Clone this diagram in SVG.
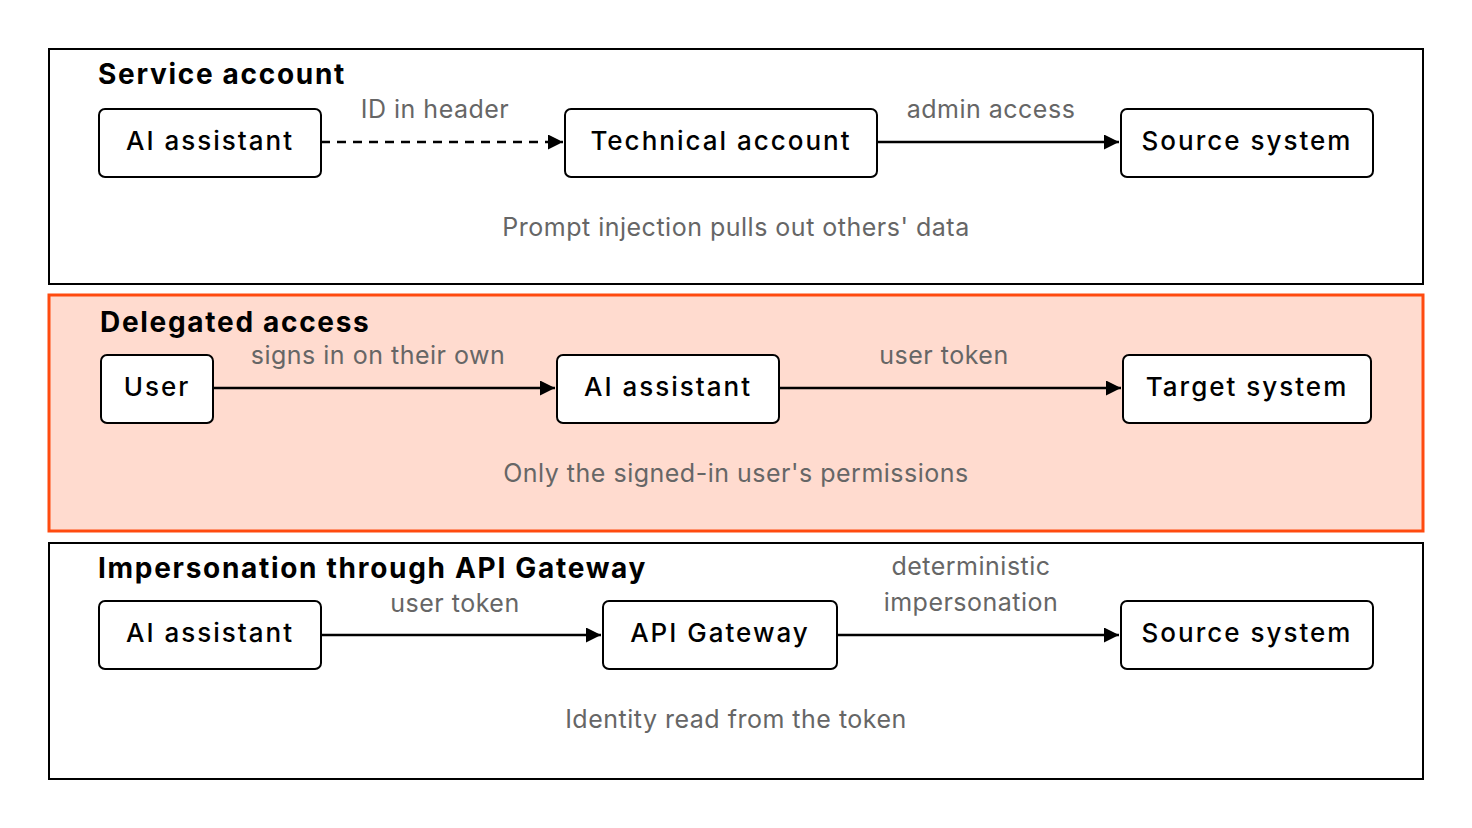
<svg xmlns="http://www.w3.org/2000/svg" width="1472" height="828" viewBox="0 0 1472 828">
<style>
.panel{fill:#fff;stroke:#000;stroke-width:2}
.hl{fill:#FFDBCF;stroke:#FF4A0F;stroke-width:3}
.node{fill:#fff;stroke:#000;stroke-width:2}
.title{font-family:Inter,"Noto Sans",sans-serif;font-weight:700;font-size:28px;fill:#000;letter-spacing:1.7px}
.nl{font-family:Inter,"Noto Sans",sans-serif;font-weight:500;font-size:26px;fill:#000;text-anchor:middle;letter-spacing:2px}
.el{font-family:Inter,"Noto Sans",sans-serif;font-size:25px;fill:#666;text-anchor:middle;letter-spacing:0.5px}
.edge{stroke:#000;stroke-width:2.5;fill:none;marker-end:url(#ah)}
</style>
<defs><marker id="ah" viewBox="0 0 10 10" refX="10" refY="5" markerWidth="6" markerHeight="6" markerUnits="strokeWidth" orient="auto"><path d="M0,0L10,5L0,10z" fill="#000"/></marker></defs>
<rect width="1472" height="828" fill="#fff"/>
<g id="panel-service"><rect class="panel" x="49" y="49" width="1374" height="235"/><text class="title" x="98" y="84">Service account</text><text class="el" x="736" y="236">Prompt injection pulls out others' data</text></g>
<g id="panel-delegated"><rect class="hl" x="49" y="295" width="1374" height="236"/><text class="title" x="100" y="332">Delegated access</text><text class="el" x="736" y="482">Only the signed-in user's permissions</text></g>
<g id="panel-imp"><rect class="panel" x="49" y="543" width="1374" height="236"/><text class="title" x="98" y="578">Impersonation through API Gateway</text><text class="el" x="736" y="728">Identity read from the token</text></g>
<g id="connectors">
<path class="edge" d="M321,142H563" stroke-dasharray="9,7"/>
<text class="el" x="435" y="118">ID in header</text>
<path class="edge" d="M877,142H1119"/>
<text class="el" x="991" y="118">admin access</text>
<path class="edge" d="M213,388H555"/>
<text class="el" x="378" y="364">signs in on their own</text>
<path class="edge" d="M779,388H1121"/>
<text class="el" x="944" y="364">user token</text>
<path class="edge" d="M321,635H601"/>
<text class="el" x="455" y="612">user token</text>
<path class="edge" d="M837,635H1119"/>
<text class="el" x="971" y="575">deterministic</text>
<text class="el" x="971" y="611">impersonation</text>
</g>
<g id="n1"><rect class="node" x="99" y="109" width="222" height="68" rx="6"/><text class="nl" x="210" y="150">AI assistant</text></g>
<g id="n2"><rect class="node" x="565" y="109" width="312" height="68" rx="6"/><text class="nl" x="721" y="150">Technical account</text></g>
<g id="n3"><rect class="node" x="1121" y="109" width="252" height="68" rx="6"/><text class="nl" x="1247" y="150">Source system</text></g>
<g id="n4"><rect class="node" x="101" y="355" width="112" height="68" rx="6"/><text class="nl" x="157" y="396">User</text></g>
<g id="n5"><rect class="node" x="557" y="355" width="222" height="68" rx="6"/><text class="nl" x="668" y="396">AI assistant</text></g>
<g id="n6"><rect class="node" x="1123" y="355" width="248" height="68" rx="6"/><text class="nl" x="1247" y="396">Target system</text></g>
<g id="n7"><rect class="node" x="99" y="601" width="222" height="68" rx="6"/><text class="nl" x="210" y="642">AI assistant</text></g>
<g id="n8"><rect class="node" x="603" y="601" width="234" height="68" rx="6"/><text class="nl" x="720" y="642">API Gateway</text></g>
<g id="n9"><rect class="node" x="1121" y="601" width="252" height="68" rx="6"/><text class="nl" x="1247" y="642">Source system</text></g>
</svg>
